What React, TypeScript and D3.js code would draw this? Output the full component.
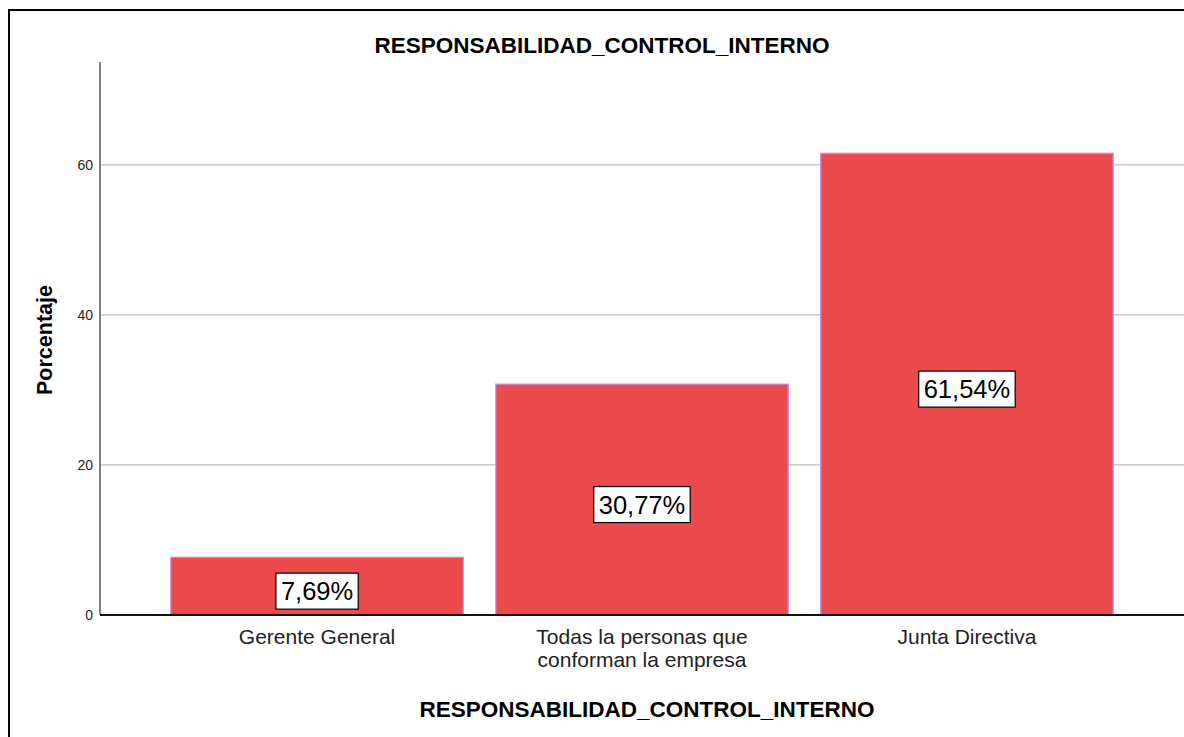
import React from "react";
import * as d3 from "d3";

const categories = ["Gerente General", "Todas la personas que\nconforman la empresa", "Junta Directiva"];
const values = [7.69, 30.77, 61.54];
const valueLabels = ["7,69%", "30,77%", "61,54%"];
const yTicks = [0, 20, 40, 60];
const titleText = "RESPONSABILIDAD_CONTROL_INTERNO";
const yTitle = "Porcentaje";

const W = 1184;
const H = 737;
const left = 100;
const right = 1184;
const top = 62;
const bottom = 615;

const charW: Record<string, number> = { ",": 0.278, "%": 0.889 };
function emWidth(s: string) {
  let w = 0;
  for (const c of s) w += charW[c] ?? 0.556;
  return w;
}

export default function App() {
  const x = d3.scaleBand<number>().domain(d3.range(categories.length)).range([left, right]).paddingInner(0.1).paddingOuter(0.218);
  const y = d3.scaleLinear().domain([0, 73.7]).range([bottom, top]);
  const font = "Arial, 'Liberation Sans', sans-serif";
  const labelSize = 25.5;
  return (
    <svg width={W} height={H} style={{ position: "absolute", left: 0, top: 0, background: "#fff" }} fontFamily={font}>
      <rect x={0} y={0} width={W} height={H} fill="#fff" />
      <line x1={9} x2={W} y1={10} y2={10} stroke="#000" strokeWidth={2} />
      <line x1={9} x2={9} y1={9} y2={H} stroke="#000" strokeWidth={2} />
      <text x={602} y={53} textAnchor="middle" fontSize={22.5} fontWeight="bold" fill="#000">{titleText}</text>
      {yTicks.filter(t => t > 0).map(t => (
        <line key={t} x1={left} x2={right} y1={y(t)} y2={y(t)} stroke="#bdbdbd" strokeWidth={1.3} />
      ))}
      {yTicks.map(t => (
        <text key={t} x={93} y={y(t) + 5} textAnchor="end" fontSize={14} fill="#222">{t}</text>
      ))}
      <line x1={left} x2={left} y1={top} y2={bottom} stroke="#555" strokeWidth={1.5} />
      {values.map((v, i) => (
        <rect key={i} x={x(i)!} y={y(v)} width={x.bandwidth()} height={y(0) - y(v)} fill="#EC4B4D" stroke="#C98BEA" strokeWidth={1.2} />
      ))}
      <line x1={left} x2={right} y1={bottom} y2={bottom} stroke="#111" strokeWidth={2} />
      {values.map((v, i) => {
        const cx = x(i)! + x.bandwidth() / 2;
        const cy = y(v / 2) + 5;
        const w = emWidth(valueLabels[i]) * labelSize + 10;
        return (
          <g key={i}>
            <rect x={cx - w / 2} y={cy - 18} width={w} height={36} fill="#fff" stroke="#000" strokeWidth={1.2} />
            <text x={cx} y={cy + 9} textAnchor="middle" fontSize={labelSize} fill="#000">{valueLabels[i]}</text>
          </g>
        );
      })}
      {categories.map((c, i) => {
        const cx = x(i)! + x.bandwidth() / 2;
        return c.split("\n").map((line, j) => (
          <text key={i + "-" + j} x={cx} y={644 + j * 23} textAnchor="middle" fontSize={21} fill="#222">{line}</text>
        ));
      })}
      <text x={647} y={717} textAnchor="middle" fontSize={22.5} fontWeight="bold" fill="#000">{titleText}</text>
      <text transform={`translate(52,340) rotate(-90)`} textAnchor="middle" fontSize={21.5} fontWeight="bold" fill="#000">{yTitle}</text>
    </svg>
  );
}
